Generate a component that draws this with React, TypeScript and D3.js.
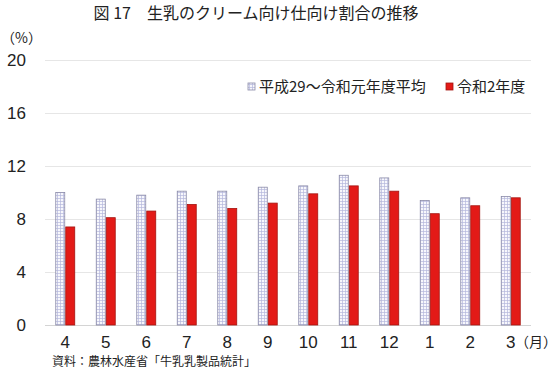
import React from "react";
import * as d3 from "d3";

const months = ["4", "5", "6", "7", "8", "9", "10", "11", "12", "1", "2", "3"];
const avgValues = [10.0, 9.5, 9.8, 10.1, 10.1, 10.4, 10.5, 11.3, 11.1, 9.4, 9.6, 9.7];
const r2Values = [7.4, 8.1, 8.6, 9.1, 8.8, 9.2, 9.9, 10.5, 10.1, 8.4, 9.0, 9.6];
const yTicks = [0, 4, 8, 12, 16, 20];
const seriesNames = ["平成29～令和元年度平均", "令和2年度"];
const title = "図 17　生乳のクリーム向け仕向け割合の推移";
const source = "資料：農林水産省「牛乳乳製品統計」";

const W = 558;
const H = 371;
const FONT = "'Noto Sans CJK JP', 'Noto Sans', sans-serif";
const NUM = "'Liberation Sans', Arial, sans-serif";

export default function App() {
  const x = d3.scaleBand<string>().domain(months).range([45, 531]);
  const y = d3.scaleLinear().domain([0, 20]).range([325, 60]);
  const barW = 9;
  const gap = 1;
  const groupW = barW * 2 + gap;

  return (
    <svg width={W} height={H} style={{ position: "absolute", left: 0, top: 0, background: "#fff" }}>
      <defs>
        <pattern id="grid" width="3" height="3" patternUnits="userSpaceOnUse">
          <rect width="3" height="3" fill="#f7f7fc" />
          <path d="M0 0.5H3M0.5 0V3" stroke="#b4b8dc" strokeWidth="0.7" />
        </pattern>
      </defs>
      <text x={256} y={19} textAnchor="middle" fontFamily={FONT} fontSize={16} fill="#222">
        {title}
      </text>
      <text x={1} y={43} fontFamily={FONT} fontSize={14} fill="#222">（%）</text>
      {yTicks.map((t) => (
        <g key={t}>
          <line x1={45} x2={531} y1={y(t) + 0.5} y2={y(t) + 0.5} stroke={t === 0 ? "#d4d4d4" : "#e6e6e6"} />
          <text x={26} y={y(t)} dy="0.36em" textAnchor="end" fontFamily={NUM} fontSize={17} fill="#222">
            {t}
          </text>
        </g>
      ))}
      {months.map((m, i) => {
        const cx = (x(m) ?? 0) + x.bandwidth() / 2;
        const x0 = cx - groupW / 2;
        return (
          <g key={m}>
            <rect x={x0} y={y(avgValues[i])} width={barW} height={y(0) - y(avgValues[i])}
              fill="url(#grid)" stroke="#8a8aa8" strokeWidth={0.8} />
            <rect x={x0 + barW + gap} y={y(r2Values[i])} width={barW} height={y(0) - y(r2Values[i])}
              fill="#e31a17" stroke="#a41410" strokeWidth={0.8} />
            <text x={cx} y={342} dy="0.36em" textAnchor="middle" fontFamily={NUM} fontSize={17} fill="#222">
              {m}
            </text>
          </g>
        );
      })}
      <text x={515} y={342} dy="0.36em" fontFamily={FONT} fontSize={14} fill="#222">（月）</text>
      <text x={52} y={362} dy="0.36em" fontFamily={FONT} fontSize={12} fill="#222">{source}</text>
      <rect x={248} y={83} width={7} height={7} fill="url(#grid)" stroke="#8a8aa8" strokeWidth={0.8} />
      <text x={259} y={87} dy="0.36em" fontFamily={FONT} fontSize={15} fill="#222">{seriesNames[0]}</text>
      <rect x={446} y={83} width={7} height={7} fill="#e31a17" stroke="#a41410" strokeWidth={0.8} />
      <text x={457} y={87} dy="0.36em" fontFamily={FONT} fontSize={15} fill="#222">{seriesNames[1]}</text>
    </svg>
  );
}
